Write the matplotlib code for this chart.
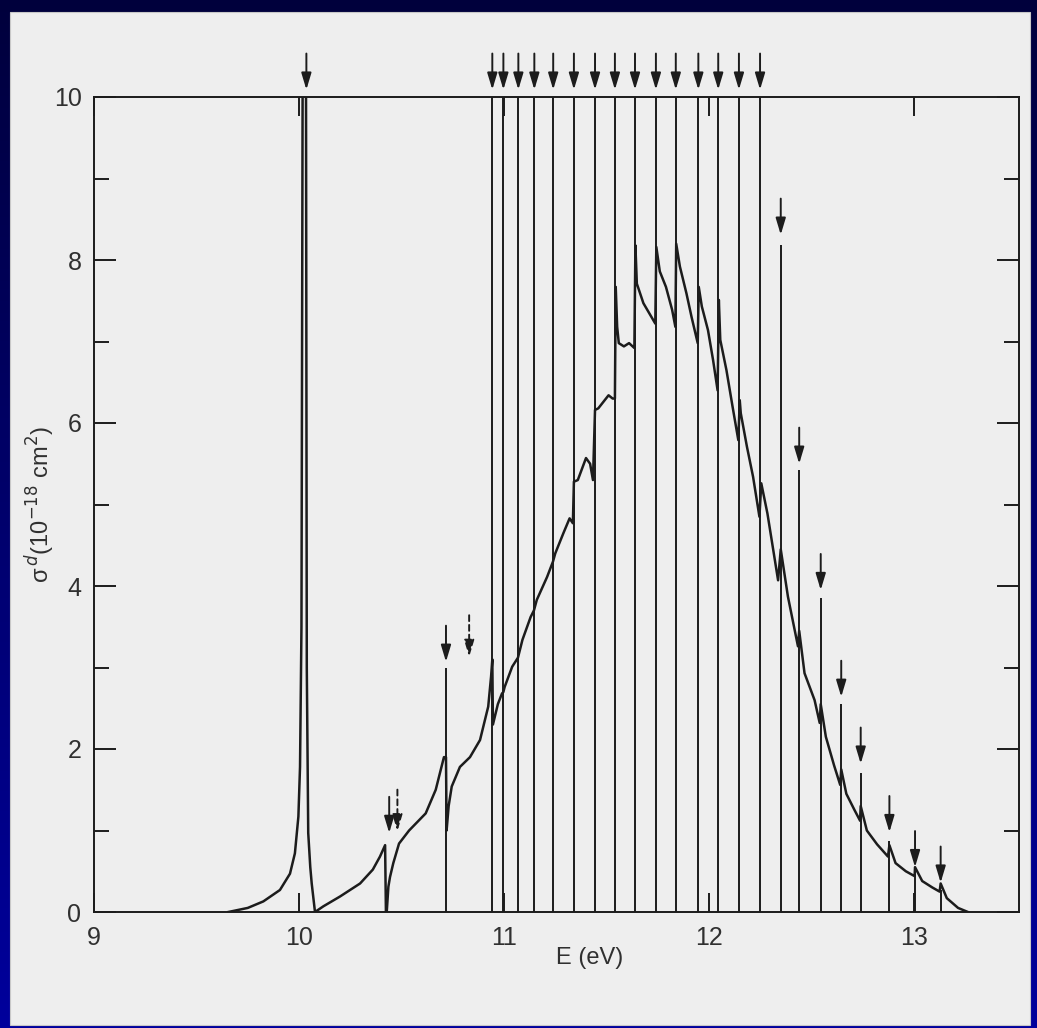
import numpy as np
import matplotlib
matplotlib.use("Agg")
import matplotlib.pyplot as plt
from matplotlib.patches import Rectangle
from matplotlib.colors import LinearSegmentedColormap

# ---------------- data ----------------
# smooth continuum / photodissociation cross section (E in eV, sigma in 1e-18 cm^2)
curve_E = [9.655, 9.75, 9.826, 9.907, 9.956, 9.980, 9.997, 10.005, 10.012, 10.018,
           10.034, 10.038, 10.045, 10.055, 10.062, 10.078, 10.119, 10.20, 10.298, 10.36,
           10.395, 10.42, 10.424, 10.428, 10.436, 10.444, 10.46, 10.488, 10.537, 10.618,
           10.667, 10.691, 10.707, 10.717, 10.72, 10.73, 10.745, 10.785, 10.834, 10.883,
           10.923, 10.937, 10.943, 10.946, 10.97, 10.99, 10.997, 11.003, 11.04, 11.068,
           11.09, 11.13, 11.146, 11.16, 11.21, 11.239, 11.25, 11.29, 11.32, 11.336,
           11.341, 11.36, 11.40, 11.42, 11.434, 11.444, 11.46, 11.51, 11.53, 11.541,
           11.545, 11.552, 11.56, 11.585, 11.61, 11.636, 11.641, 11.648, 11.68, 11.71,
           11.738, 11.743, 11.76, 11.79, 11.82, 11.836, 11.84, 11.858, 11.89, 11.915,
           11.945, 11.95, 11.965, 11.995, 12.02, 12.042, 12.048, 12.055, 12.085, 12.115,
           12.143, 12.15, 12.155, 12.185, 12.215, 12.246, 12.255, 12.285, 12.337, 12.350,
           12.385, 12.434, 12.44, 12.466, 12.515, 12.54, 12.545, 12.57, 12.61, 12.64,
           12.645, 12.67, 12.71, 12.737, 12.74, 12.77, 12.82, 12.873, 12.88, 12.91,
           12.96, 13.003, 13.005, 13.04, 13.09, 13.125, 13.13, 13.16, 13.215, 13.263]
curve_sigma = [0.00, 0.05, 0.13, 0.27, 0.47, 0.72, 1.17, 1.78, 3.50, 10.5,
               10.5, 3.00, 0.97, 0.55, 0.35, 0.00, 0.07, 0.19, 0.35, 0.52,
               0.68, 0.82, 0.00, 0.00, 0.31, 0.43, 0.60, 0.84, 1.00, 1.21,
               1.50, 1.74, 1.90, 1.90, 1.00, 1.30, 1.54, 1.78, 1.90, 2.11,
               2.52, 2.89, 3.10, 2.30, 2.55, 2.68, 2.70, 2.76, 3.01, 3.12,
               3.34, 3.62, 3.70, 3.83, 4.11, 4.30, 4.40, 4.65, 4.83, 4.77,
               5.28, 5.30, 5.57, 5.50, 5.30, 6.16, 6.18, 6.34, 6.30, 6.30,
               7.67, 7.18, 6.98, 6.94, 6.98, 6.92, 8.18, 7.71, 7.47, 7.34,
               7.22, 8.16, 7.86, 7.67, 7.39, 7.18, 8.20, 7.92, 7.59, 7.30,
               6.98, 7.67, 7.43, 7.14, 6.77, 6.40, 7.51, 7.02, 6.65, 6.20,
               5.79, 6.28, 6.12, 5.71, 5.34, 4.85, 5.26, 4.89, 4.07, 4.45,
               3.87, 3.26, 3.45, 2.93, 2.60, 2.32, 2.55, 2.15, 1.80, 1.56,
               1.75, 1.45, 1.25, 1.12, 1.30, 1.00, 0.83, 0.68, 0.82, 0.60,
               0.50, 0.44, 0.55, 0.38, 0.30, 0.25, 0.35, 0.17, 0.05, 0.00]

# Rydberg resonance lines (position, top of the line)
series_E = [10.717, 10.943, 10.997, 11.070, 11.148, 11.240, 11.341, 11.444, 11.541,
            11.639, 11.741, 11.838, 11.948, 12.045, 12.146, 12.249, 12.350, 12.440,
            12.545, 12.645, 12.740, 12.880, 13.005, 13.130]
series_top = [2.99, 10, 10, 10, 10, 10, 10, 10, 10,
              10, 10, 10, 10, 10, 10, 10, 8.18, 5.42,
              3.85, 2.55, 1.70, 0.87, 0.47, 0.27]

# solid arrows (position, height of the arrow tip)
arrow_E = [10.036, 10.44, 10.717, 10.943, 10.997, 11.070, 11.148, 11.240, 11.341,
           11.444, 11.541, 11.639, 11.741, 11.838, 11.948, 12.045, 12.146, 12.249,
           12.350, 12.440, 12.545, 12.645, 12.740, 12.880, 13.005, 13.130]
arrow_tip = [10.09, 0.97, 3.07, 10.09, 10.09, 10.09, 10.09, 10.09, 10.09,
             10.09, 10.09, 10.09, 10.09, 10.09, 10.09, 10.09, 10.09, 10.09,
             8.31, 5.50, 3.95, 2.64, 1.82, 0.98, 0.55, 0.36]
# dashed arrows
dashed_E = [10.48, 10.83]
dashed_tip = [0.99, 3.13]

x_ticks = [9, 10, 11, 12, 13]
y_ticks = [0, 2, 4, 6, 8, 10]
y_minor = [1, 3, 5, 7, 9]

# ---------------- figure ----------------
W, H = 1037, 1028
fig = plt.figure(figsize=(W / 100, H / 100), dpi=100)
FONT = ["Liberation Sans", "DejaVu Sans"]
ink = "#1c1c1c"
txt = "#303030"

# dark blue frame with a soft vertical gradient
bg = fig.add_axes([0, 0, 1, 1], zorder=-10)
grad = np.linspace(0, 1, 256).reshape(-1, 1)
cmap = LinearSegmentedColormap.from_list("bg", ["#00003c", "#00006c", "#00009c"])
bg.imshow(grad, aspect="auto", cmap=cmap, extent=[0, 1, 0, 1], origin="upper")
bg.add_patch(Rectangle((10 / W, 1 - 1025 / H), (1030 - 10) / W, (1025 - 12) / H,
                       facecolor="#eeeeee", edgecolor="#c8c8c8", lw=0.8))
bg.set_xlim(0, 1)
bg.set_ylim(0, 1)
bg.axis("off")

xmin, xmax = 9.0, 13.51
px_per_eV = 205
ax = fig.add_axes([94 / W, 1 - 912 / H, (xmax - xmin) * px_per_eV / W, 815 / H])
ax.set_facecolor("none")
ax.set_xlim(xmin, xmax)
ax.set_ylim(0, 10)

# continuum curve
ax.plot(curve_E, curve_sigma, color=ink, lw=1.8, solid_joinstyle="round")
# resonance lines
ax.vlines(series_E, 0, series_top, color=ink, lw=1.4)

# arrows
for e, t in zip(arrow_E, arrow_tip):
    ax.annotate("", xy=(e, t), xytext=(0, 26), textcoords="offset points",
                annotation_clip=False,
                arrowprops=dict(arrowstyle="-|>,head_length=1.0,head_width=0.3",
                                mutation_scale=10, lw=1.4, color=ink,
                                shrinkA=0, shrinkB=0))
for e, t in zip(dashed_E, dashed_tip):
    ax.annotate("", xy=(e, t), xytext=(0, 30), textcoords="offset points",
                annotation_clip=False,
                arrowprops=dict(arrowstyle="-|>,head_length=1.0,head_width=0.3",
                                mutation_scale=10, lw=1.4, color=ink, linestyle=(0, (3, 2)),
                                shrinkA=0, shrinkB=0))

# axes styling
for s in ax.spines.values():
    s.set_linewidth(1.4)
    s.set_color(ink)
ax.set_xticks(x_ticks)
ax.set_yticks(y_ticks)
ax.set_yticks(y_minor, minor=True)
ax.tick_params(axis="both", which="major", direction="in", color=ink, width=1.4,
               labelsize=18, labelcolor=txt)
ax.tick_params(axis="x", which="major", length=14, top=True, bottom=True, pad=10)
ax.tick_params(axis="y", which="major", length=16, left=True, right=True, pad=9)
ax.tick_params(axis="y", which="minor", direction="in", length=11, width=1.4,
               left=True, right=True, color=ink)
ax.tick_params(axis="x", which="minor", bottom=False, top=False)
for lab in ax.get_xticklabels() + ax.get_yticklabels():
    lab.set_family(FONT)

fig.text(590 / W, 1 - 958 / H, "E (eV)", ha="center", va="center",
         fontsize=17, color=txt, family=FONT)
fig.text(40 / W, 1 - 505 / H, "σ$^{\\,d}$(10$^{-18}$ cm$^{2}$)", ha="center", va="center",
         rotation=90, fontsize=17, color=txt, family=FONT)

fig.savefig("out.png", dpi=100, facecolor=fig.get_facecolor())
